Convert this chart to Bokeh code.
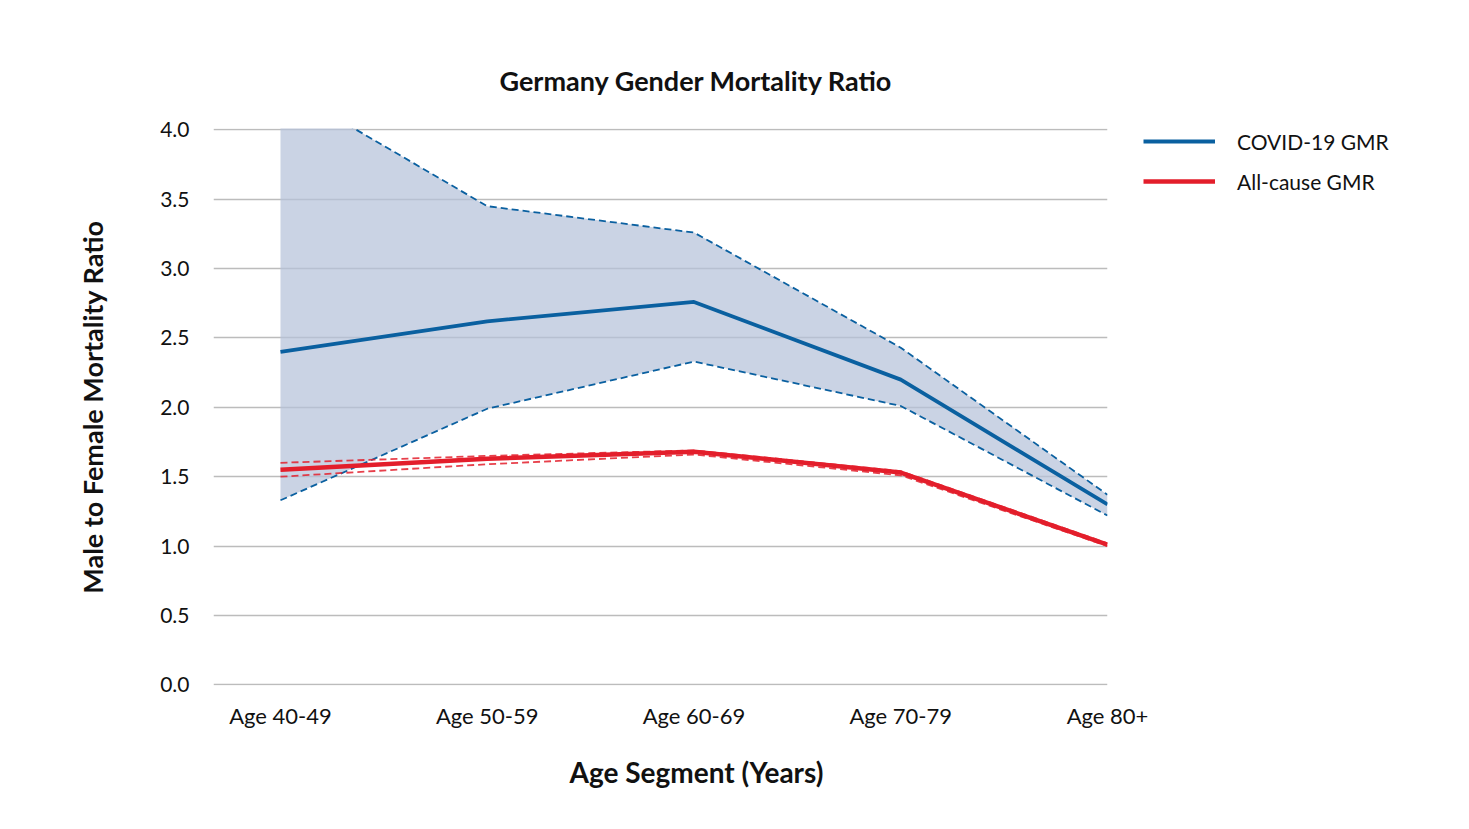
from bokeh.plotting import figure
from bokeh.models import Legend, LegendItem, Title, FixedTicker, NumeralTickFormatter
from bokeh.embed import file_html
from bokeh.resources import INLINE

# ---- data ----
ages = ["Age 40-49", "Age 50-59", "Age 60-69", "Age 70-79", "Age 80+"]
covid_gmr = [2.40, 2.62, 2.76, 2.20, 1.30]
covid_upper = [4.32, 3.45, 3.26, 2.43, 1.37]
covid_lower = [1.33, 1.99, 2.33, 2.01, 1.22]
allcause_gmr = [1.55, 1.63, 1.68, 1.53, 1.01]
allcause_upper = [1.60, 1.65, 1.69, 1.54, 1.02]
allcause_lower = [1.50, 1.59, 1.66, 1.51, 1.00]
y_ticks = [0.0, 0.5, 1.0, 1.5, 2.0, 2.5, 3.0, 3.5, 4.0]

FONT = "Lato"
BLUE = "#0a60a0"
RED = "#e31e2b"
TXT = "#111111"

x = list(range(len(ages)))

p = figure(frame_width=894, frame_height=557,
           x_range=(-0.324, 4), y_range=(-0.005, 4.01),
           min_border_left=213, min_border_right=340,
           min_border_top=128, min_border_bottom=60,
           output_backend="svg", toolbar_location=None)
p.outline_line_color = None
p.background_fill_color = "white"

# grid
p.xgrid.grid_line_color = None
p.ygrid.ticker = FixedTicker(ticks=y_ticks)
p.ygrid.grid_line_color = "#bcbcbc"
p.ygrid.grid_line_width = 1.5

# axes
p.xaxis.ticker = FixedTicker(ticks=x)
p.xaxis.major_label_overrides = {i: a for i, a in enumerate(ages)}
p.yaxis.ticker = FixedTicker(ticks=y_ticks)
p.yaxis.formatter = NumeralTickFormatter(format="0.0")
for ax in (p.xaxis[0], p.yaxis[0]):
    ax.axis_line_color = None
    ax.major_tick_line_color = None
    ax.minor_tick_line_color = None
    ax.major_tick_out = 0
    ax.major_tick_in = 0
    ax.major_label_text_font = FONT
    ax.major_label_text_font_size = "21px"
    ax.major_label_text_color = TXT
p.xaxis.major_label_text_font_size = "22px"
p.xaxis.major_label_standoff = 16
p.yaxis.major_label_standoff = 24
p.yaxis.axis_label = "Male to Female Mortality Ratio"
p.yaxis.axis_label_text_font = FONT
p.yaxis.axis_label_text_font_size = "27px"
p.yaxis.axis_label_text_font_style = "bold"
p.yaxis.axis_label_text_color = TXT
p.yaxis.axis_label_standoff = 48

# band
p.varea(x=x, y1=covid_lower, y2=covid_upper, fill_color="#b6c2da", fill_alpha=0.72)

# covid CI
p.line(x, covid_upper, line_color=BLUE, line_width=1.8, line_dash="7 4")
p.line(x, covid_lower, line_color=BLUE, line_width=1.8, line_dash="7 4")
r_blue = p.line(x, covid_gmr, line_color=BLUE, line_width=3.8)

# all-cause CI
p.line(x, allcause_upper, line_color=RED, line_width=1.8, line_dash="7 4", line_alpha=0.85)
p.line(x, allcause_lower, line_color=RED, line_width=1.8, line_dash="7 4", line_alpha=0.85)
r_red = p.line(x, allcause_gmr, line_color=RED, line_width=4.5)

legend = Legend(items=[LegendItem(label="COVID-19 GMR", renderers=[r_blue]),
                       LegendItem(label="All-cause GMR", renderers=[r_red])],
                location=(36, 484))
legend.background_fill_alpha = 0
legend.border_line_color = None
legend.glyph_width = 72
legend.glyph_height = 40
legend.label_height = 40
legend.label_standoff = 22
legend.spacing = 0
legend.padding = 0
legend.margin = 0
legend.label_text_font = FONT
legend.label_text_font_size = "21px"
legend.label_text_color = TXT
p.add_layout(legend, "right")

# title and x-axis label
p.add_layout(Title(text="Germany Gender Mortality Ratio", align="left", offset=286,
                   text_font=FONT, text_font_size="27px", text_font_style="bold",
                   text_color=TXT, standoff=63), "above")
p.add_layout(Title(text="Age Segment (Years)", align="left", offset=356,
                   text_font=FONT, text_font_size="28px", text_font_style="bold",
                   text_color=TXT, standoff=43), "below")

open("out.html", "w").write(file_html(p, INLINE))
